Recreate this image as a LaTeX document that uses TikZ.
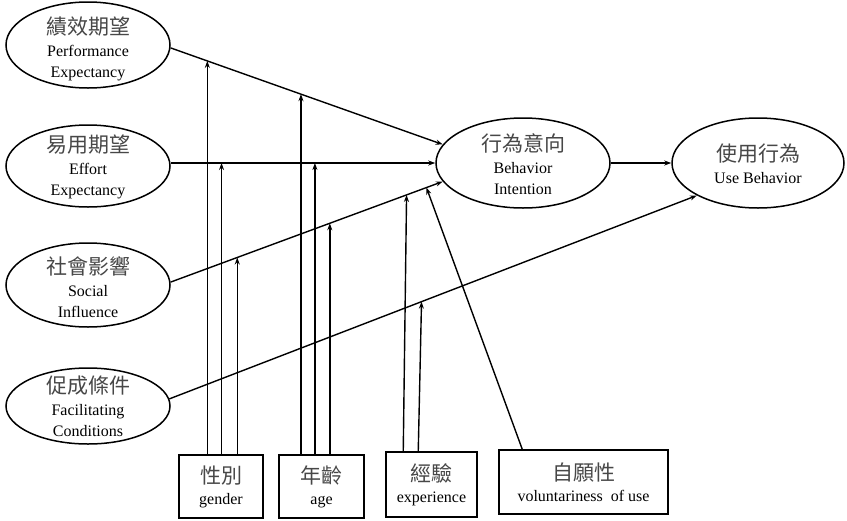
\documentclass[tikz,border=0pt]{standalone}
\usepackage{fontspec}
\setmainfont{Liberation Serif}
\newfontfamily\cjkfont{Noto Sans CJK TC}
\usetikzlibrary{shapes.geometric,arrows.meta,calc}
\newcommand\zhtxt[1]{{\cjkfont\fontsize{21}{21}\selectfont\color{black!72}#1}}
\begin{document}
\begin{tikzpicture}[x=1pt,y=-1pt,
  ell/.style={draw,ellipse,line width=1.5pt,inner sep=0pt,minimum width=164pt},
  lbl/.style={align=center,inner sep=0pt,font=\fontsize{16}{21}\selectfont},
  box/.style={draw,rectangle,line width=1.5pt,inner sep=0pt,align=center,font=\fontsize{16}{21}\selectfont},
  arr/.style={line width=1.4pt,-{Stealth[length=7pt,width=5pt]}},
]
\useasboundingbox (0,0) rectangle (847,520);

% ellipses
\node[ell,minimum height=86pt] (pe) at (88,45) {};
\node[lbl] (pel) at (88,49) {\zhtxt{績效期望}\\[1pt]Performance\\Expectancy};
\node[ell,minimum height=82pt] (ee) at (88,166) {};
\node[lbl] (eel) at (88,167) {\zhtxt{易用期望}\\[1pt]Effort\\Expectancy};
\node[ell,minimum height=84pt] (si) at (88,285) {};
\node[lbl] (sil) at (88,287) {\zhtxt{社會影響}\\[1pt]Social\\Influence};
\node[ell,minimum height=76pt] (fc) at (88,406) {};
\node[lbl] (fcl) at (88,406) {\zhtxt{促成條件}\\[1pt]Facilitating\\Conditions};
\node[ell,minimum width=174pt,minimum height=90pt] (bi) at (523,163) {};
\node[lbl] (bil) at (523,164) {\zhtxt{行為意向}\\[1pt]Behavior\\Intention};
\node[ell,minimum width=172pt,minimum height=90pt] (ub) at (758,163) {};
\node[lbl] (ubl) at (758,164) {\zhtxt{使用行為}\\[1pt]Use Behavior};

% boxes
\node[box,minimum width=84pt,minimum height=63pt] (gd) at (221,486.5) {\zhtxt{性別}\\[0pt]gender};
\node[box,minimum width=85pt,minimum height=63pt] (ag) at (321.5,486.5) {\zhtxt{年齡}\\[0pt]age};
\node[box,minimum width=91pt,minimum height=65pt] (ex) at (431.5,484.5) {\zhtxt{經驗}\\[0pt]experience};
\node[box,minimum width=169pt,minimum height=64pt] (vo) at (583.5,482) {\zhtxt{自願性}\\[0pt]voluntariness\ \ of use};

% main paths
\draw[arr] (pe.-2) -- coordinate[pos=0.135] (g1) coordinate[pos=0.479] (a1) (bi.167);
\draw[arr] (bi.west -| ee.east) -- coordinate[pos=0.192] (g2) coordinate[pos=0.545] (a2) (bi.west);
\draw[arr] (si.2) -- coordinate[pos=0.245] (g3) coordinate[pos=0.585] (a3)
  coordinate[pos=0.867] (e1) coordinate[pos=0.94] (v1) (bi.193);
\draw[arr] (fc.5) -- coordinate[pos=0.478] (e2) (ub.208);
\draw[arr] (bi.east) -- (ub.west);

% moderators
\draw[arr] (gd.north -| g1) -- (g1);
\draw[arr] (gd.north -| g2) -- (g2);
\draw[arr] (gd.north -| g3) -- (g3);
\draw[arr] (ag.north -| a1) -- (a1);
\draw[arr] (ag.north -| a2) -- (a2);
\draw[arr] (ag.north -| a3) -- (a3);
\draw[arr] ($(ex.north west)+(18,0)$) -- (e1);
\draw[arr] ($(ex.north west)+(33,0)$) -- (e2);
\draw[arr] ($(vo.north west)+(24,0)$) -- (v1);
\end{tikzpicture}
\end{document}
